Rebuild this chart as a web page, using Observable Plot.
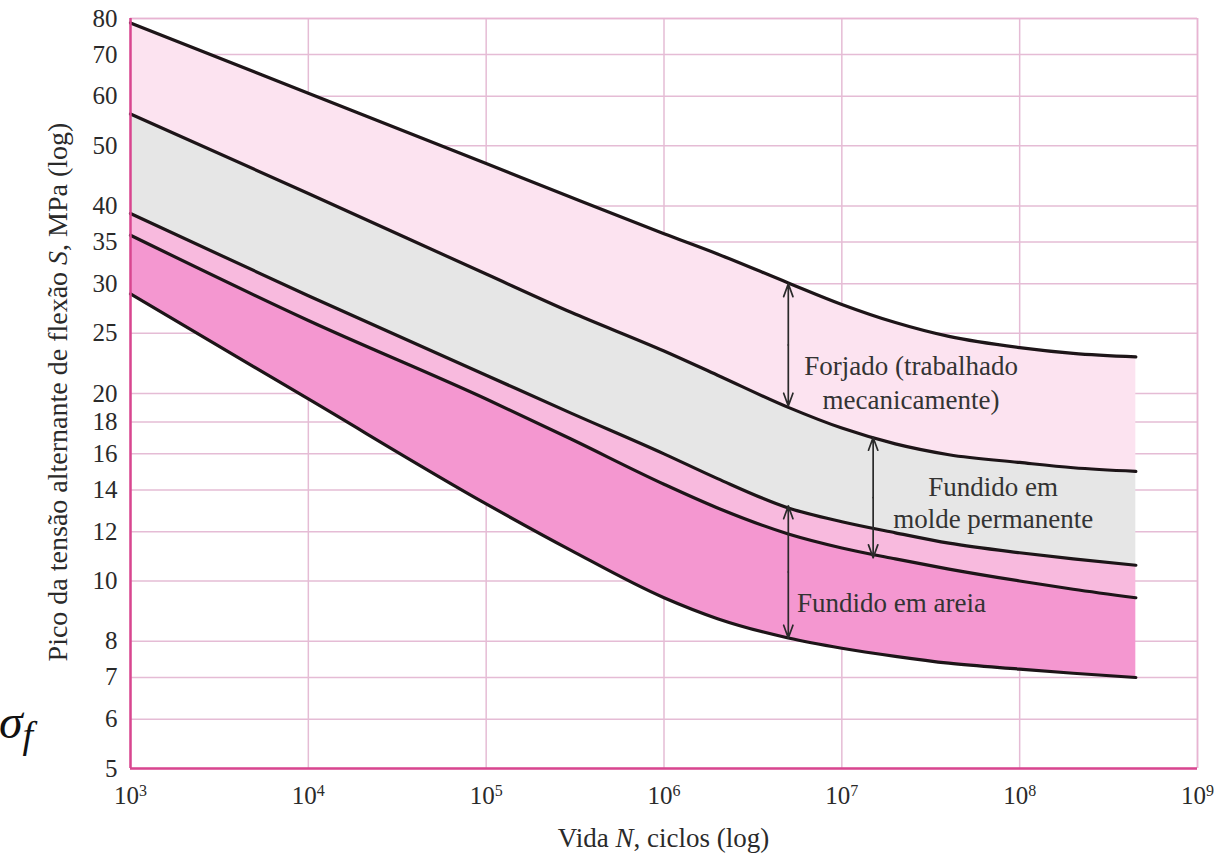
<!DOCTYPE html>
<html><head><meta charset="utf-8">
<script src="https://cdn.jsdelivr.net/npm/d3@7"></script>
<script src="https://cdn.jsdelivr.net/npm/@observablehq/plot@0.6"></script>
<style>
body{margin:0;background:#fff;}
#chart{position:relative;width:1227px;height:857px;}
</style></head><body><div id="chart"></div>
<script>
// Vida N (ciclos)
const cycles      = [1e3, 1e4, 1e5, 3e5, 1e6, 2e6, 5e6, 1e7, 2e7, 4e7, 1e8, 2e8, 4.5e8];
// Pico da tensão alternante de flexão S, MPa
const forgedUpper = [78.7, 60.7, 46.8, 41.3, 36.1, 33.5, 30.1, 27.8, 26.0, 24.7, 23.7, 23.2, 22.9];
const forgedLower = [56.2, 41.9, 31.1, 27.0, 23.4, 21.4, 19.0, 17.6, 16.6, 15.95, 15.5, 15.2, 15.0];
const sandUpper   = [38.9, 28.7, 21.4, 18.6, 16.0, 14.6, 13.1, 12.45, 11.95, 11.5, 11.1, 10.85, 10.6];
const moldLower   = [35.9, 26.2, 19.6, 16.9, 14.3, 13.1, 11.9, 11.3, 10.85, 10.45, 10.0, 9.7, 9.4];
const sandLower   = [28.9, 19.6, 13.3, 11.2, 9.4, 8.7, 8.1, 7.8, 7.57, 7.38, 7.22, 7.11, 7.0];

const xTicks = [1e3, 1e4, 1e5, 1e6, 1e7, 1e8, 1e9];
const yTicks = [5, 6, 7, 8, 10, 12, 14, 16, 18, 20, 25, 30, 35, 40, 50, 60, 70, 80];

// arrows: N, upper S, lower S
const arrowN     = [5e6, 1.5e7, 5e6];
const arrowTop   = [30.0, 17.0, 13.2];
const arrowBot   = [19.1, 10.9, 8.1];

const rows = cycles.map((n, i) => ({n, a: forgedUpper[i], b: forgedLower[i], c: sandUpper[i], d: moldLower[i], e: sandLower[i]}));
const arrows = arrowN.map((n, i) => ({n, top: arrowTop[i], bot: arrowBot[i], mid: Math.sqrt(arrowTop[i] * arrowBot[i])}));

const FONT = "'Liberation Serif', 'Times New Roman', serif";
const curve = "monotone-x";
const lineStyle = {x: "n", curve, stroke: "#1d1518", strokeWidth: 3.2};
const gridColor = "#e5bcd5";

const plot = Plot.plot({
  width: 1227, height: 857,
  marginLeft: 130, marginRight: 30, marginTop: 18, marginBottom: 89,
  style: {fontFamily: FONT, fontSize: "25px", color: "#2a2a2a", background: "#fff"},
  x: {type: "log", domain: [1e3, 1e9]},
  y: {type: "log", domain: [5, 80]},
  marks: [
    Plot.gridY(yTicks, {stroke: gridColor, strokeOpacity: 1, strokeWidth: 1.5}),
    Plot.gridX(xTicks, {stroke: gridColor, strokeOpacity: 1, strokeWidth: 1.5}),
    Plot.areaY(rows, {x: "n", y1: "b", y2: "a", curve, fill: "#fce3f0"}),
    Plot.areaY(rows, {x: "n", y1: "c", y2: "b", curve, fill: "#e6e6e6"}),
    Plot.areaY(rows, {x: "n", y1: "d", y2: "c", curve, fill: "#f8bade"}),
    Plot.areaY(rows, {x: "n", y1: "e", y2: "d", curve, fill: "#f497d0"}),
    Plot.line(rows, {...lineStyle, y: "a"}),
    Plot.line(rows, {...lineStyle, y: "b"}),
    Plot.line(rows, {...lineStyle, y: "c"}),
    Plot.line(rows, {...lineStyle, y: "d"}),
    Plot.line(rows, {...lineStyle, y: "e"}),
    Plot.arrow(arrows, {x1: "n", x2: "n", y1: "mid", y2: "top", stroke: "#2a2a2a", strokeWidth: 1.7, headLength: 12, headAngle: 40}),
    Plot.arrow(arrows, {x1: "n", x2: "n", y1: "mid", y2: "bot", stroke: "#2a2a2a", strokeWidth: 1.7, headLength: 12, headAngle: 40}),
    Plot.text(["Forjado (trabalhado\nmecanicamente)"], {x: 2.45e7, y: 20.9, text: d => d, fontSize: 27, lineHeight: 1.26, fill: "#333"}),
    Plot.text(["Fundido em\nmolde permanente"], {x: 7.1e7, y: 13.4, text: d => d, fontSize: 27, lineHeight: 1.2, fill: "#333"}),
    Plot.text(["Fundido em areia"], {x: 5.6e6, y: 9.2, text: d => d, fontSize: 27, textAnchor: "start", fill: "#333"}),
    Plot.ruleY([80], {stroke: "#e8b4d2", strokeWidth: 1.5}),
    Plot.ruleX([1e9], {stroke: "#e8b4d2", strokeWidth: 1.5}),
    Plot.ruleY([5], {stroke: "#d8468f", strokeWidth: 2.5}),
    Plot.ruleX([1e3], {stroke: "#d8468f", strokeWidth: 2.5}),
    Plot.axisY(yTicks, {tickSize: 0, tickPadding: 13, label: null, fontSize: 25}),
    Plot.axisX(xTicks, {tickSize: 0, tickPadding: 18, label: null, fontSize: 25,
      tickFormat: d => "10^" + Math.round(Math.log10(d))})
  ]
});

document.getElementById("chart").appendChild(plot);
const svg = d3.select(plot);

// superscript exponents on x tick labels
svg.selectAll('g[aria-label="x-axis tick label"] text').each(function() {
  const t = d3.select(this);
  const [base, exp] = t.text().split("^");
  t.text(null);
  t.append("tspan").text(base);
  t.append("tspan").attr("dy", "-0.5em").attr("font-size", 16).text(exp);
});

// y-axis title
const yt = svg.append("text")
  .attr("transform", "translate(67,392) rotate(-90)")
  .attr("text-anchor", "middle")
  .attr("font-family", FONT)
  .attr("font-size", 28).attr("fill", "#2a2a2a");
yt.append("tspan").text("Pico da tensão alternante de flexão ");
yt.append("tspan").attr("font-style", "italic").text("S");
yt.append("tspan").text(", MPa (log)");

// x-axis title
const xt = svg.append("text")
  .attr("x", 663.5).attr("y", 847)
  .attr("text-anchor", "middle")
  .attr("font-family", FONT)
  .attr("font-size", 27).attr("fill", "#2a2a2a");
xt.append("tspan").text("Vida ");
xt.append("tspan").attr("font-style", "italic").text("N");
xt.append("tspan").text(", ciclos (log)");

// sigma_f symbol
const sf = svg.append("text")
  .attr("x", 16).attr("y", 738)
  .attr("font-family", FONT)
  .attr("font-style", "italic")
  .attr("font-size", 48).attr("fill", "#111");
sf.append("tspan").text("σ");
sf.append("tspan").attr("dy", 10).attr("font-size", 38).text("f");
</script></body></html>
